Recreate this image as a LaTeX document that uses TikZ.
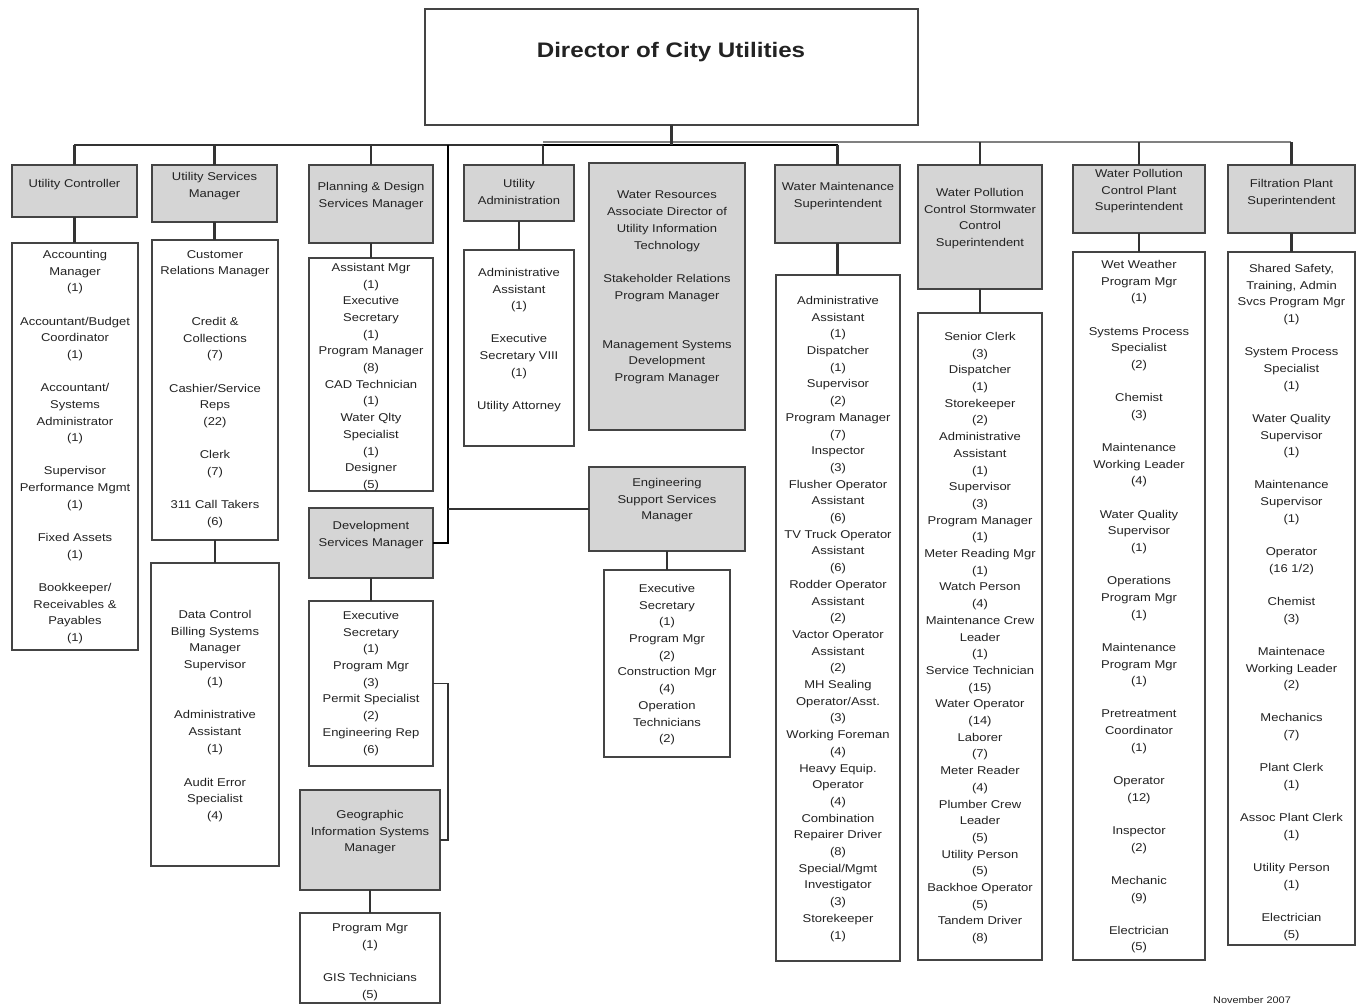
\documentclass[tikz,border=0pt]{standalone}
\usepackage{fontspec}
\newfontfamily\chartfont[FakeStretch=1.15]{Liberation Sans}
\definecolor{gfill}{HTML}{D5D5D5}
\definecolor{bordc}{HTML}{444444}
\definecolor{connc}{HTML}{333333}
\definecolor{txtc}{HTML}{222222}
\newcommand\obox[6]{\node[#2, minimum width={#5-#3}, minimum height={#6-#4}] (#1) at (#3,#4) {};}
\begin{document}
\begin{tikzpicture}[x=1pt,y=-1pt,
  gbox/.style={draw=bordc, line width=2.1pt, fill=gfill, inner sep=0pt, outer sep=0pt, anchor=north west},
  wbox/.style={draw=bordc, line width=1.9pt, fill=white, inner sep=0pt, outer sep=0pt, anchor=north west},
  txt/.style={font=\chartfont\fontsize{11.3}{16.7}\selectfont, align=center, inner sep=0pt, anchor=north, text=txtc},
  conn/.style={draw=connc, line width=2.2pt},
  connlight/.style={draw=gray, line width=1.8pt},
  connthick/.style={draw=black, line width=2.8pt},
  connthin/.style={draw=connc, line width=1.6pt}]
\useasboundingbox[fill=white] (0,0) rectangle (1366,1005);

% boxes
\obox{dir}{wbox}{425}{9}{918}{125}
\obox{uc}{gbox}{12}{165}{137}{217}
\obox{ucc}{wbox}{12}{243}{138}{650}
\obox{us}{gbox}{152}{165}{277}{222}
\obox{usa}{wbox}{152}{240}{278}{540}
\obox{usb}{wbox}{151}{563}{279}{866}
\obox{pd}{gbox}{309}{165}{433}{243}
\obox{pdc}{wbox}{309}{258}{433}{491}
\obox{ds}{gbox}{309}{508}{433}{578}
\obox{dsc}{wbox}{309}{601}{433}{766}
\obox{gis}{gbox}{300}{790}{440}{890}
\obox{gisc}{wbox}{300}{913}{440}{1003}
\obox{ua}{gbox}{464}{165}{574}{221}
\obox{uac}{wbox}{464}{250}{574}{446}
\obox{wr}{gbox}{589}{163}{745}{430}
\obox{es}{gbox}{589}{467}{745}{551}
\obox{esc}{wbox}{604}{570}{730}{757}
\obox{wm}{gbox}{775}{165}{900}{243}
\obox{wmc}{wbox}{776}{275}{900}{961}
\obox{ws}{gbox}{918}{165}{1042}{289}
\obox{wsc}{wbox}{918}{313}{1042}{960}
\obox{wp}{gbox}{1073}{165}{1205}{233}
\obox{wpc}{wbox}{1073}{252}{1205}{960}
\obox{fp}{gbox}{1228}{165}{1355}{233}
\obox{fpc}{wbox}{1228}{252}{1355}{945}

% bus
\coordinate (bl) at (74,145);
\coordinate (bm) at (543,145);
\coordinate (bw) at (838,145);
\coordinate (bm2) at (543,142);
\coordinate (br) at (1291,142);
\coordinate (bd) at (448,145);
\draw[conn] (bl) -- (bm);
\draw[connlight] (bm2) -- (br);
\draw[connthick] (bm) -- (bw);
\draw[conn] (dir.south) -- (dir.south |- bw);
\draw[conn] (uc.north) -- (uc.north |- bl);
\draw[conn] (us.north) -- (us.north |- bl);
\draw[conn] (pd.north) -- (pd.north |- bl);
\draw[conn] (bm) -- (bm |- ua.north);
\draw[conn] (wm.north) -- (wm.north |- bw);
\draw[conn] (ws.north) -- (ws.north |- br);
\draw[conn] (wp.north) -- (wp.north |- br);
\draw[conn] (fp.north) -- (fp.north |- br);
\draw[connthick] (bd) |- (ds.east);
\draw[conn] (es.west) -- (es.west -| bd);
\draw[connthin] (dsc.east) -- ++(15,0) |- (gis.east);

% box to child connectors
\draw[conn] (uc.south) -- (uc.south |- ucc.north);
\draw[conn] (us.south) -- (us.south |- usa.north);
\draw[conn] (usa.south) -- (usa.south |- usb.north);
\draw[conn] (pd.south) -- (pd.south |- pdc.north);
\draw[conn] (ds.south) -- (ds.south |- dsc.north);
\draw[conn] (gis.south) -- (gis.south |- gisc.north);
\draw[conn] (ua.south) -- (ua.south |- uac.north);
\draw[conn] (es.south) -- (es.south |- esc.north);
\draw[conn] (wm.south) -- (wm.south |- wmc.north);
\draw[conn] (ws.south) -- (ws.south |- wsc.north);
\draw[conn] (wp.south) -- (wp.south |- wpc.north);
\draw[conn] (fp.south) -- (fp.south |- fpc.north);

% texts
\node[font=\chartfont\fontsize{21}{25}\selectfont\bfseries, text=txtc, inner sep=0pt] (tdir) at (671,52) {Director of City Utilities};

\node[txt] (tuc) at (74.5,179) {Utility Controller};
\node[txt] (tucc) at (75,250) {Accounting\\Manager\\(1)\\[16.5pt]Accountant/Budget\\Coordinator\\(1)\\[16.5pt]Accountant/\\Systems\\Administrator\\(1)\\[16.5pt]Supervisor\\Performance Mgmt\\(1)\\[16.5pt]Fixed Assets\\(1)\\[16.5pt]Bookkeeper/\\Receivables \&\\Payables\\(1)};

\node[txt] (tus) at (214.5,172) {Utility Services\\Manager};
\node[txt] (tusa) at (215,250) {Customer\\Relations Manager\\[34pt]Credit \&\\Collections\\(7)\\[16.5pt]Cashier/Service\\Reps\\(22)\\[16.5pt]Clerk\\(7)\\[16.5pt]311 Call Takers\\(6)};
\node[txt] (tusb) at (215,610) {Data Control\\Billing Systems\\Manager\\Supervisor\\(1)\\[17pt]Administrative\\Assistant\\(1)\\[17pt]Audit Error\\Specialist\\(4)};

\node[txt] (tpd) at (371,182) {Planning \& Design\\Services Manager};
\node[txt] (tpdc) at (371,263) {Assistant Mgr\\(1)\\Executive\\Secretary\\(1)\\Program Manager\\(8)\\CAD Technician\\(1)\\Water Qlty\\Specialist\\(1)\\Designer\\(5)};
\node[txt] (tds) at (371,521) {Development\\Services Manager};
\node[txt] (tdsc) at (371,611) {Executive\\Secretary\\(1)\\Program Mgr\\(3)\\Permit Specialist\\(2)\\Engineering Rep\\(6)};
\node[txt] (tgis) at (370,810) {Geographic\\Information Systems\\Manager};
\node[txt] (tgisc) at (370,924) {Program Mgr\\(1)\\[16.5pt]GIS Technicians\\(5)};

\node[txt] (tua) at (519,179) {Utility\\Administration};
\node[txt] (tuac) at (519,268) {Administrative\\Assistant\\(1)\\[16.5pt]Executive\\Secretary VIII\\(1)\\[16.5pt]Utility Attorney};

\node[txt] (twr) at (667,191) {Water Resources\\Associate Director of\\Utility Information\\Technology\\[17pt]Stakeholder Relations\\Program Manager\\[32pt]Management Systems\\Development\\Program Manager};
\node[txt] (tes) at (667,478) {Engineering\\Support Services\\Manager};
\node[txt] (tesc) at (667,584) {Executive\\Secretary\\(1)\\Program Mgr\\(2)\\Construction Mgr\\(4)\\Operation\\Technicians\\(2)};

\node[txt] (twm) at (838,182) {Water Maintenance\\Superintendent};
\node[txt] (twmc) at (838,296) {Administrative\\Assistant\\(1)\\Dispatcher\\(1)\\Supervisor\\(2)\\Program Manager\\(7)\\Inspector\\(3)\\Flusher Operator\\Assistant\\(6)\\TV Truck Operator\\Assistant\\(6)\\Rodder Operator\\Assistant\\(2)\\Vactor Operator\\Assistant\\(2)\\MH Sealing\\Operator/Asst.\\(3)\\Working Foreman\\(4)\\Heavy Equip.\\Operator\\(4)\\Combination\\Repairer Driver\\(8)\\Special/Mgmt\\Investigator\\(3)\\Storekeeper\\(1)};

\node[txt] (tws) at (980,188) {Water Pollution\\Control Stormwater\\Control\\Superintendent};
\node[txt] (twsc) at (980,332) {Senior Clerk\\(3)\\Dispatcher\\(1)\\Storekeeper\\(2)\\Administrative\\Assistant\\(1)\\Supervisor\\(3)\\Program Manager\\(1)\\Meter Reading Mgr\\(1)\\Watch Person\\(4)\\Maintenance Crew\\Leader\\(1)\\Service Technician\\(15)\\Water Operator\\(14)\\Laborer\\(7)\\Meter Reader\\(4)\\Plumber Crew\\Leader\\(5)\\Utility Person\\(5)\\Backhoe Operator\\(5)\\Tandem Driver\\(8)};

\node[txt] (twp) at (1139,169) {Water Pollution\\Control Plant\\Superintendent};
\node[txt] (twpc) at (1139,260) {Wet Weather\\Program Mgr\\(1)\\[16.5pt]Systems Process\\Specialist\\(2)\\[16.5pt]Chemist\\(3)\\[16.5pt]Maintenance\\Working Leader\\(4)\\[16.5pt]Water Quality\\Supervisor\\(1)\\[16.5pt]Operations\\Program Mgr\\(1)\\[16.5pt]Maintenance\\Program Mgr\\(1)\\[16.5pt]Pretreatment\\Coordinator\\(1)\\[16.5pt]Operator\\(12)\\[16.5pt]Inspector\\(2)\\[16.5pt]Mechanic\\(9)\\[16.5pt]Electrician\\(5)};

\node[txt] (tfp) at (1291.5,179) {Filtration Plant\\Superintendent};
\node[txt] (tfpc) at (1291.5,264) {Shared Safety,\\Training, Admin\\Svcs Program Mgr\\(1)\\[16.5pt]System Process\\Specialist\\(1)\\[16.5pt]Water Quality\\Supervisor\\(1)\\[16.5pt]Maintenance\\Supervisor\\(1)\\[16.5pt]Operator\\(16 1/2)\\[16.5pt]Chemist\\(3)\\[16.5pt]Maintenace\\Working Leader\\(2)\\[16.5pt]Mechanics\\(7)\\[16.5pt]Plant Clerk\\(1)\\[16.5pt]Assoc Plant Clerk\\(1)\\[16.5pt]Utility Person\\(1)\\[16.5pt]Electrician\\(5)};

\node[font=\chartfont\fontsize{9.5}{10}\selectfont, text=txtc, inner sep=0pt] (tdate) at (1252,1000) {November 2007};
\end{tikzpicture}
\end{document}
